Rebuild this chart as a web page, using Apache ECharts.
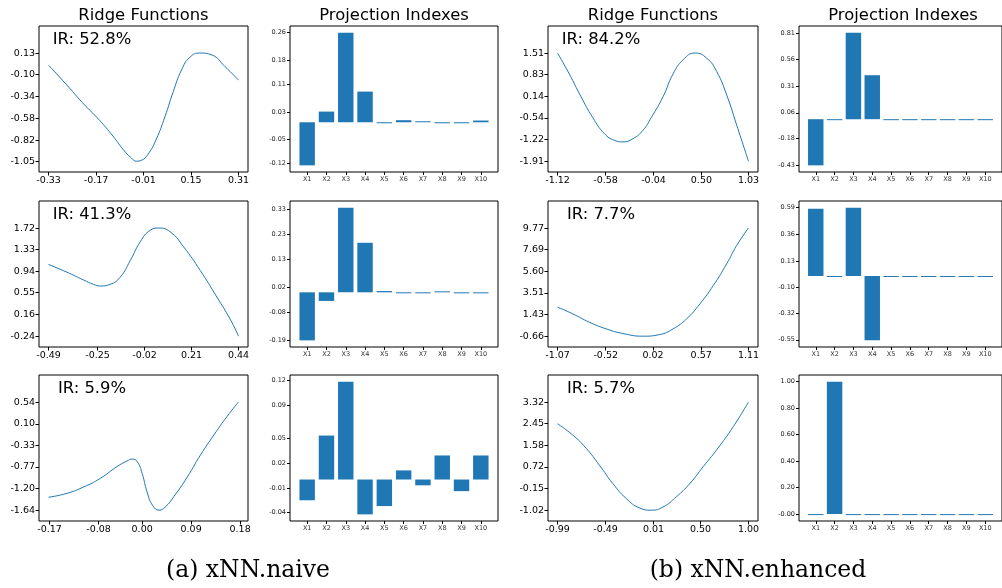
<!DOCTYPE html>
<html>
<head>
<meta charset="utf-8">
<script src="https://cdn.jsdelivr.net/npm/echarts@6/dist/echarts.min.js"></script>
<style>
html, body { margin: 0; padding: 0; background: #fff; }
#main { width: 1002px; height: 588px; }
</style>
</head>
<body>
<div id="main"></div>
<script>
// projection features (bar categories)
var features = ['X1', 'X2', 'X3', 'X4', 'X5', 'X6', 'X7', 'X8', 'X9', 'X10'];

// ---- (a) xNN.naive ----
var naiveIR = ['IR: 52.8%', 'IR: 41.3%', 'IR: 5.9%'];

var naiveRidge1X = [-0.33, -0.271, -0.215, -0.158, -0.113, -0.079, -0.051, -0.034, -0.017, 0.005, 0.033, 0.062, 0.09, 0.118, 0.146, 0.18, 0.22, 0.265, 0.31];
var naiveRidge1Y = [0.0, -0.207, -0.412, -0.603, -0.775, -0.92, -1.015, -1.05, -1.04, -0.975, -0.81, -0.566, -0.291, -0.053, 0.086, 0.133, 0.112, -0.017, -0.163];
var naiveRidge2X = [-0.49, -0.40, -0.319, -0.27, -0.237, -0.188, -0.139, -0.09, -0.041, 0.008, 0.049, 0.106, 0.171, 0.253, 0.334, 0.399, 0.44];
var naiveRidge2Y = [1.06, 0.92, 0.78, 0.70, 0.67, 0.70, 0.83, 1.13, 1.47, 1.68, 1.72, 1.65, 1.38, 0.95, 0.47, 0.07, -0.24];
var naiveRidge3X = [-0.172, -0.138, -0.107, -0.077, -0.046, -0.028, -0.018, -0.009, 0.0, 0.009, 0.019, 0.031, 0.043, 0.058, 0.083, 0.107, 0.132, 0.156, 0.177];
var naiveRidge3Y = [-1.38, -1.30, -1.17, -1.00, -0.76, -0.65, -0.61, -0.66, -0.90, -1.27, -1.54, -1.64, -1.57, -1.37, -0.97, -0.53, -0.12, 0.25, 0.54];

var naiveProj1 = [-0.125, 0.031, 0.26, 0.089, -0.002, 0.006, 0.002, -0.002, -0.002, 0.005];
var naiveProj2 = [-0.19, -0.034, 0.335, 0.196, 0.005, -0.002, -0.002, 0.003, -0.002, -0.002];
var naiveProj3 = [-0.025, 0.053, 0.118, -0.042, -0.032, 0.011, -0.007, 0.029, -0.014, 0.029];

var naiveRidge1XTicks = [-0.33, -0.17, -0.01, 0.15, 0.31];
var naiveRidge1YTicks = [-1.05, -0.82, -0.58, -0.34, -0.10, 0.13];
var naiveRidge2XTicks = [-0.49, -0.25, -0.02, 0.21, 0.44];
var naiveRidge2YTicks = [-0.24, 0.16, 0.55, 0.94, 1.33, 1.72];
var naiveRidge3XTicks = [-0.17, -0.08, 0.00, 0.09, 0.18];
var naiveRidge3YTicks = [-1.64, -1.20, -0.77, -0.33, 0.10, 0.54];
var naiveProj1Ticks = [-0.12, -0.05, 0.03, 0.11, 0.18, 0.26];
var naiveProj2Ticks = [-0.19, -0.08, 0.02, 0.13, 0.23, 0.33];
var naiveProj3Ticks = [-0.04, -0.01, 0.02, 0.05, 0.09, 0.12];

// ---- (b) xNN.enhanced ----
var enhIR = ['IR: 84.2%', 'IR: 7.7%', 'IR: 5.7%'];

var enhRidge1X = [-1.12, -0.988, -0.856, -0.724, -0.592, -0.479, -0.384, -0.271, -0.158, -0.064, 0.068, 0.181, 0.295, 0.427, 0.559, 0.672, 0.785, 0.898, 1.03];
var enhRidge1Y = [1.51, 0.851, 0.129, -0.529, -1.039, -1.251, -1.30, -1.198, -0.933, -0.529, 0.129, 0.851, 1.298, 1.51, 1.35, 0.926, 0.182, -0.774, -1.91];
var enhRidge2X = [-1.07, -0.898, -0.707, -0.515, -0.324, -0.095, 0.097, 0.25, 0.403, 0.556, 0.709, 0.862, 0.976, 1.11];
var enhRidge2Y = [2.14, 1.50, 0.69, 0.05, -0.40, -0.66, -0.50, 0.05, 1.01, 2.46, 4.23, 6.33, 8.10, 9.77];
var enhRidge3X = [-0.99, -0.833, -0.693, -0.554, -0.414, -0.274, -0.135, -0.012, 0.11, 0.249, 0.389, 0.529, 0.668, 0.843, 1.0];
var enhRidge3Y = [2.45, 2.0, 1.47, 0.79, 0.05, -0.55, -0.93, -1.02, -0.89, -0.48, 0.05, 0.73, 1.40, 2.34, 3.32];

var enhProj1 = [-0.435, -0.002, 0.815, 0.414, -0.002, -0.002, -0.002, -0.002, -0.002, -0.002];
var enhProj2 = [0.58, -0.002, 0.59, -0.555, -0.002, -0.002, -0.002, -0.002, -0.002, -0.002];
var enhProj3 = [-0.002, 1.0, -0.002, -0.002, -0.002, -0.002, -0.002, -0.002, -0.002, -0.002];

var enhRidge1XTicks = [-1.12, -0.58, -0.04, 0.50, 1.03];
var enhRidge1YTicks = [-1.91, -1.22, -0.54, 0.14, 0.83, 1.51];
var enhRidge2XTicks = [-1.07, -0.52, 0.02, 0.57, 1.11];
var enhRidge2YTicks = [-0.66, 1.43, 3.51, 5.60, 7.69, 9.77];
var enhRidge3XTicks = [-0.99, -0.49, 0.01, 0.50, 1.00];
var enhRidge3YTicks = [-1.02, -0.15, 0.72, 1.58, 2.45, 3.32];
var enhProj1Ticks = [-0.43, -0.18, 0.06, 0.31, 0.56, 0.81];
var enhProj2Ticks = [-0.55, -0.32, -0.10, 0.13, 0.36, 0.59];
var enhProj3Ticks = [-0.0001, 0.20, 0.40, 0.60, 0.80, 1.00];

// ---- layout ----
var colLeft = [39, 290, 548, 799];
var colWidth = [209, 208, 210, 208];
var rowTop = [26, 201, 375];
var rowHeight = 146;
var blue = '#1f77b4';

var option = {
	animation: false,
	backgroundColor: '#fff',
	title: [],
	grid: [],
	xAxis: [],
	yAxis: [],
	series: []
};

function fmt(v) {
	return v.toFixed(2);
}

function addGrid(col, row) {
	option.grid.push({
		left: colLeft[col], top: rowTop[row], width: colWidth[col], height: rowHeight,
		show: true, borderColor: '#000', borderWidth: 1, backgroundColor: 'transparent',
		containLabel: false
	});
	return option.grid.length - 1;
}

function valueAxis(idx, lo, hi, ticks, fontSize, tickLen, labelColor, fmtFn) {
	return {
		type: 'value', gridIndex: idx, min: lo, max: hi, scale: true,
		axisLine: { show: false, onZero: false },
		splitLine: { show: false },
		axisTick: { show: true, length: tickLen, customValues: ticks, lineStyle: { color: '#000', width: 1 } },
		axisLabel: { show: true, customValues: ticks, formatter: fmtFn || fmt, fontSize: fontSize,
			fontFamily: 'DejaVu Sans', color: labelColor, margin: 4, hideOverlap: false }
	};
}

function addRidge(col, row, xs, ys, xTicks, yTicks, irText) {
	var idx = addGrid(col, row);
	var xr = Math.max.apply(null, xs) - Math.min.apply(null, xs);
	var ymin = Math.min.apply(null, ys), ymax = Math.max.apply(null, ys);
	var yr = ymax - ymin;
	option.xAxis.push(valueAxis(idx, Math.min.apply(null, xs) - 0.05 * xr, Math.max.apply(null, xs) + 0.05 * xr, xTicks, 9.5, 3.5, '#000'));
	option.yAxis.push(valueAxis(idx, ymin - 0.1 * yr, ymax + 0.25 * yr, yTicks, 9.5, 3.5, '#000'));
	option.series.push({
		type: 'line', xAxisIndex: idx, yAxisIndex: idx,
		data: xs.map(function (x, i) { return [x, ys[i]]; }),
		showSymbol: false, smooth: 0.5,
		lineStyle: { width: 1, color: blue }, itemStyle: { color: blue }
	});
	option.title.push({
		text: irText, left: colLeft[col] + 53, top: rowTop[row] + 6, textAlign: 'center', padding: 0,
		textStyle: { fontSize: 16.4, fontWeight: 'normal', color: '#000', fontFamily: 'DejaVu Sans' }
	});
}

function addProj(col, row, vals, yTicks) {
	var idx = addGrid(col, row);
	var lo = -0.4, hi = vals.length - 1 + 0.4;
	var pad = 0.05 * (hi - lo);
	var vmin = Math.min(0, Math.min.apply(null, vals)), vmax = Math.max(0, Math.max.apply(null, vals));
	var vr = vmax - vmin;
	var xTicks = vals.map(function (v, i) { return i; });
	option.xAxis.push(valueAxis(idx, lo - pad, hi + pad, xTicks, 6.5, 3, '#333', function (v) { return features[Math.round(v)]; }));
	option.yAxis.push(valueAxis(idx, vmin - 0.05 * vr, vmax + 0.05 * vr, yTicks, 6.5, 3, '#222'));
	option.series.push({
		type: 'bar', xAxisIndex: idx, yAxisIndex: idx,
		data: vals.map(function (v, i) { return [i, v]; }),
		barWidth: 0.8 * colWidth[col] / (hi - lo + 2 * pad), barMinHeight: 1,
		itemStyle: { color: blue }
	});
}

function addHeader(col, text) {
	option.title.push({
		text: text, left: colLeft[col] + colWidth[col] / 2, top: 8, textAlign: 'center', padding: 0,
		textStyle: { fontSize: 16.4, fontWeight: 'normal', color: '#000', fontFamily: 'DejaVu Sans' }
	});
}

addHeader(0, 'Ridge Functions');
addHeader(1, 'Projection Indexes');
addHeader(2, 'Ridge Functions');
addHeader(3, 'Projection Indexes');

addRidge(0, 0, naiveRidge1X, naiveRidge1Y, naiveRidge1XTicks, naiveRidge1YTicks, naiveIR[0]);
addProj(1, 0, naiveProj1, naiveProj1Ticks);
addRidge(2, 0, enhRidge1X, enhRidge1Y, enhRidge1XTicks, enhRidge1YTicks, enhIR[0]);
addProj(3, 0, enhProj1, enhProj1Ticks);

addRidge(0, 1, naiveRidge2X, naiveRidge2Y, naiveRidge2XTicks, naiveRidge2YTicks, naiveIR[1]);
addProj(1, 1, naiveProj2, naiveProj2Ticks);
addRidge(2, 1, enhRidge2X, enhRidge2Y, enhRidge2XTicks, enhRidge2YTicks, enhIR[1]);
addProj(3, 1, enhProj2, enhProj2Ticks);

addRidge(0, 2, naiveRidge3X, naiveRidge3Y, naiveRidge3XTicks, naiveRidge3YTicks, naiveIR[2]);
addProj(1, 2, naiveProj3, naiveProj3Ticks);
addRidge(2, 2, enhRidge3X, enhRidge3Y, enhRidge3XTicks, enhRidge3YTicks, enhIR[2]);
addProj(3, 2, enhProj3, enhProj3Ticks);

// sub-figure captions
option.title.push({
	text: '(a) xNN.naive', left: 248, top: 559, textAlign: 'center', padding: 0,
	textStyle: { fontSize: 23.5, fontWeight: 'normal', color: '#000', fontFamily: 'DejaVu Serif' }
});
option.title.push({
	text: '(b) xNN.enhanced', left: 758, top: 559, textAlign: 'center', padding: 0,
	textStyle: { fontSize: 23.5, fontWeight: 'normal', color: '#000', fontFamily: 'DejaVu Serif' }
});

var chart = echarts.init(document.getElementById('main'), null, { renderer: 'canvas' });
chart.setOption(option);
</script>
</body>
</html>
